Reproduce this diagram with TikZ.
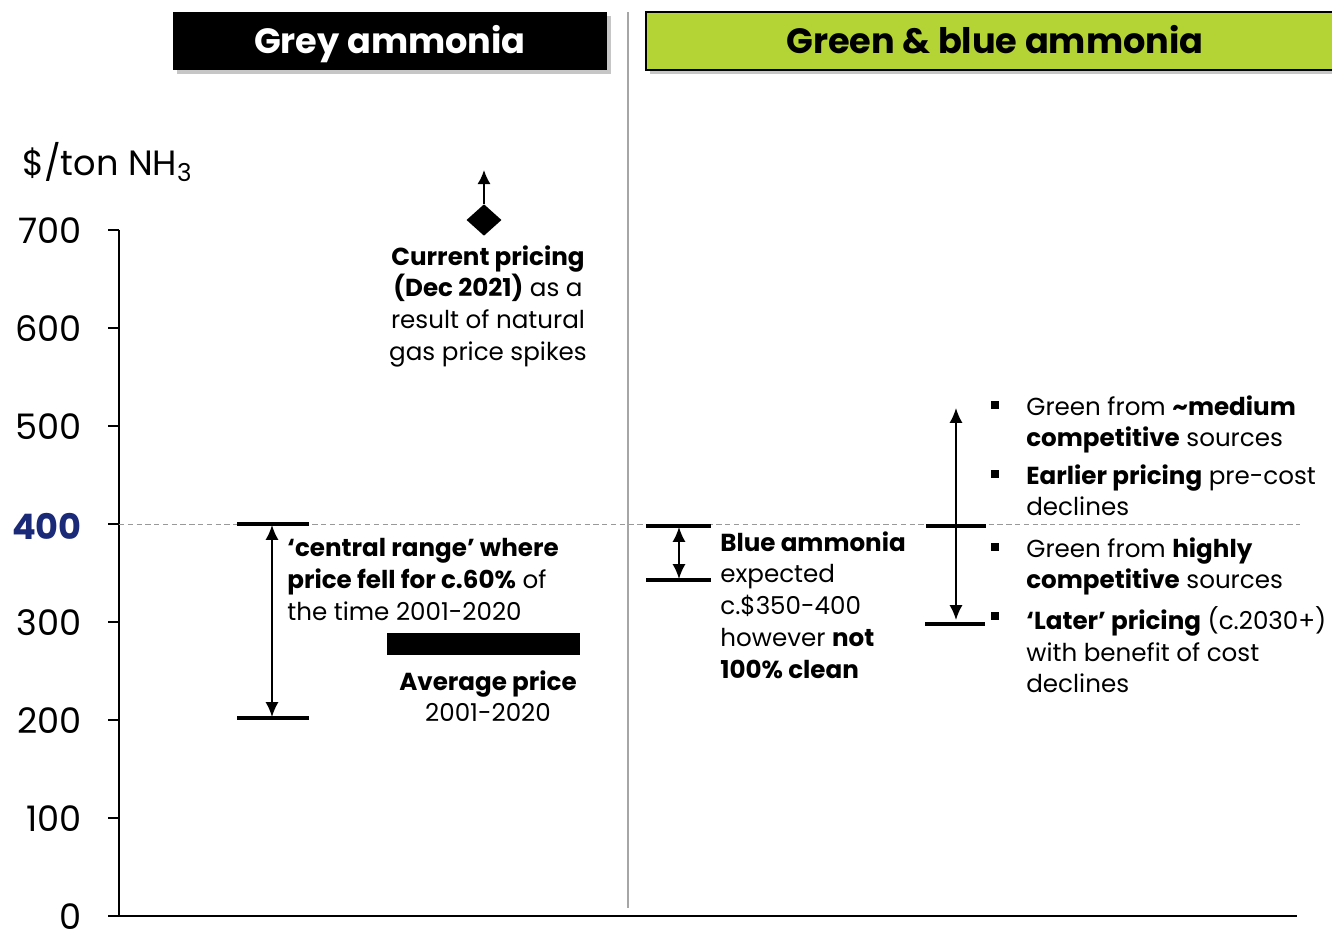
\documentclass[tikz,border=0pt]{standalone}
\usepackage{fontspec}
\setmainfont{Poppins}
\usetikzlibrary{arrows.meta,shadows,shapes.geometric}
\definecolor{headgreen}{HTML}{B4D335}
\definecolor{ticknavy}{HTML}{1B2A78}
\tikzset{
  axistick/.style={line width=0.8pt},
  rangebar/.style={line width=1.8pt},
  dblarrow/.style={{Latex[length=8.5pt,width=7.5pt]}-{Latex[length=8.5pt,width=7.5pt]},line width=1.1pt},
  ylab/.style={anchor=east,inner sep=0pt,font=\fontsize{20}{24}\selectfont},
  note/.style={inner sep=0pt,font=\fontsize{14}{18.1}\selectfont},
  head/.style={minimum width=#1,minimum height=32.9pt,inner sep=0pt,
    text height=14pt,text depth=0pt,
    font=\fontsize{20}{24}\selectfont\bfseries,
    drop shadow={shadow xshift=2pt,shadow yshift=-2.5pt,opacity=0.45}},
  sqbullet/.style={fill,minimum size=4pt,inner sep=0pt}
}
\begin{document}
\begin{tikzpicture}[x=0.02cm,y=-0.02cm]
	\useasboundingbox (0,0) rectangle (1332,929);
	
	% headers
	\node[head=247pt,fill=black,text=white] (grey) at (390,41) {Grey ammonia};
	\node[head=397pt,fill=headgreen,draw=black,line width=1.2pt] (green) at (995,41) {Green \& blue ammonia};
	\draw[gray!70,line width=0.6pt] (628,12) -- (628,908);
	
	% axes
	\draw[line width=0.9pt] (119,230) -- (119,916);
	\draw[line width=1.6pt] (108,916) -- (1297,916);
	\foreach \v/\lab in {0/0,1/100,2/200,3/300,5/500,6/600,7/700}{
		\draw[axistick] (108,916-98*\v) -- (119,916-98*\v);
		\node[ylab] (y\v) at (82,917-98*\v) {\lab};
	}
	\draw[axistick] (108,524) -- (119,524);
	\node[ylab,text=ticknavy,font=\fontsize{20}{24}\selectfont\bfseries] (y4) at (82,526) {400};
	\node[anchor=west,inner sep=0pt,font=\fontsize{20}{24}\selectfont] (unit) at (22,162) {\$/ton NH\textsubscript{3}};
	\draw[gray!80,dashed,dash pattern=on 3pt off 2pt,line width=0.5pt] (119,524) -- (1300,524);
	
	% current pricing
	\node[diamond,fill=black,inner sep=0pt,minimum width=20pt,minimum height=18pt] (dec) at (484,220) {};
	\coordinate (decup) at (484,170);
	\draw[-{Latex[length=8pt,width=7.5pt]},line width=1.1pt] (dec.north) -- (decup);
	\node[note,anchor=north,align=center] (curtxt) at (488,245)
		{\textbf{Current pricing}\\\textbf{(Dec 2021)} as a\\result of natural\\gas price spikes};
	
	% central range
	\draw[rangebar] (237,524) -- (309,524);
	\draw[rangebar] (237,718) -- (309,718);
	\coordinate (crtop) at (272,525);
	\coordinate (crbot) at (272,717);
	\draw[dblarrow] (crtop) -- (crbot);
	\node[note,anchor=north west,align=left] (crtxt) at (287,538)
		{\textbf{‘central range’ where}\\\textbf{price fell for c.60\%} of\\the time 2001-2020};
	
	% average price
	\fill (387,633) rectangle (580,655);
	\node[note,anchor=north,align=center] (avgtxt) at (488,670) {\textbf{Average price}\\2001-2020};
	
	% blue ammonia
	\draw[rangebar] (646,526) -- (711,526);
	\draw[rangebar] (646,580) -- (711,580);
	\coordinate (bltop) at (679,527);
	\coordinate (blbot) at (679,579);
	\draw[dblarrow] (bltop) -- (blbot);
	\node[note,anchor=north west,align=left] (bltxt) at (720,531)
		{\textbf{Blue ammonia}\\expected\\c.\$350-400\\however \textbf{not}\\\textbf{100\% clean}};
	
	% green ammonia
	\draw[rangebar] (926,526) -- (986,526);
	\draw[rangebar] (925,624) -- (985,624);
	\coordinate (grtop) at (956,408);
	\coordinate (grbot) at (956,620);
	\draw[dblarrow] (grtop) -- (grbot);
	
	\node[sqbullet] (b1) at (995,405) {};
	\node[sqbullet] (b2) at (995,474) {};
	\node[sqbullet] (b3) at (995,547) {};
	\node[sqbullet] (b4) at (995,616) {};
	\node[note,anchor=north west,align=left] (g1) at (1026,395) {Green from \textbf{\textasciitilde medium}\\\textbf{competitive} sources};
	\node[note,anchor=north west,align=left] (g2) at (1026,464) {\textbf{Earlier pricing} pre-cost\\declines};
	\node[note,anchor=north west,align=left] (g3) at (1026,537) {Green from \textbf{highly}\\\textbf{competitive} sources};
	\node[note,anchor=north west,align=left] (g4) at (1026,606) {\textbf{‘Later’ pricing} (c.2030+)\\with benefit of cost\\declines};
\end{tikzpicture}
\end{document}
